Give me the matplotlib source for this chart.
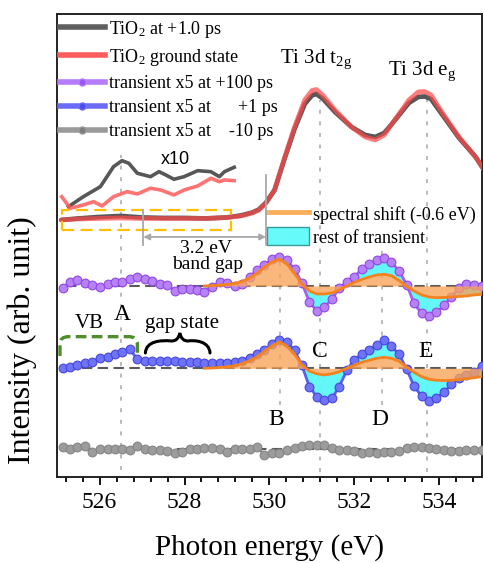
import numpy as np
import matplotlib
matplotlib.use('Agg')
import matplotlib.pyplot as plt
from matplotlib.lines import Line2D
from matplotlib.patches import Patch, Rectangle, PathPatch
from matplotlib.path import Path
from matplotlib.ticker import MultipleLocator

plt.rcParams['font.family'] = ['Liberation Serif', 'DejaVu Serif']
plt.rcParams['mathtext.fontset'] = 'custom'
plt.rcParams['mathtext.rm'] = 'Liberation Serif'
plt.rcParams['mathtext.it'] = 'Liberation Serif:italic'

# ---------------- data ----------------
e_main = [525.1, 525.5, 526.0, 526.5, 527.0, 527.5, 528.0, 528.5, 529.0, 529.33, 529.6, 529.75,
          529.92, 530.12, 530.36, 530.59, 530.83, 531.0, 531.1, 531.25, 531.54, 531.93, 532.25,
          532.49, 532.7, 532.88, 533.28, 533.5, 533.65, 533.8, 534.07, 534.46, 534.85, 535.05]
ground = [257, 258, 258.5, 259, 258.5, 258.5, 258.5, 258.5, 259.5, 261, 264, 267, 274, 287, 320,
          350, 377, 386.5, 387.5, 382, 367, 350, 340, 337, 342, 353, 377, 385, 385.5, 382, 364,
          340, 320, 307]
excited = [257, 258.5, 260, 261, 259.5, 259, 259, 258.5, 259.5, 261.5, 264.5, 267.5, 274.5, 287,
           319, 348, 373, 381.5, 383, 378.5, 365, 350, 342, 340, 344, 353, 374, 380, 380.5, 378,
           362, 339, 320, 307]

e_x10_exc = [525.27, 525.62, 526.02, 526.33, 526.53, 526.69, 526.89, 527.20, 527.40, 527.56,
             527.75, 527.99, 528.31, 528.62, 528.82, 528.94, 529.17]
x10_exc = [270.3, 280.3, 290.3, 310.3, 316.3, 313.7, 303.7, 300.3, 305.3, 302, 297.7, 300.3,
           306.3, 305.3, 300.3, 305.3, 309.7]
e_x10_gnd = [525.11, 525.31, 525.62, 525.86, 526.06, 526.33, 526.65, 526.89, 527.20, 527.44,
             527.75, 527.99, 528.31, 528.62, 528.82, 528.94, 529.17]
x10_gnd = [280.3, 268.7, 272, 275.3, 271, 280.3, 285.3, 283, 288.7, 287, 282, 287, 291, 298.7,
           295.3, 297, 296.3]

# transient energy grid (57 evenly sampled points)
e_t = np.round(525.13 + 0.176 * np.arange(57), 2)
tr_100ps = [-2.3, 4, 6, 3.3, 1, -1.3, 2, 3.7, 4.3, 6.7,
            9.3, 6.7, 5.3, 2, 1, -4.7, -3.3, -3.3, -4, -5.7,
            -1, 4.3, 2.7, 0, 2, 9, 16, 21, 27, 29,
            25.5, 17, 3, -16, -25, -21.5, -13, -2.5, 4, 9,
            16.7, 22, 25.7, 28, 23.7, 15, 1.3, -17.5, -27.3, -29.8,
            -26.5, -19.5, -11, -1.7, 1.7, 0.8, 0]
tr_1ps = [0, 1.7, 3.3, 5, 6.7, 10, 11.7, 14.3, 16.7, 19.5,
          9, 7.7, 7.7, 7.7, 7.7, 7.7, 6.7, 6.7, 6, 5,
          5, 5, 5, 6.7, 7.7, 10.5, 14, 18.5, 24, 28.3,
          26.5, 18, 3, -18.5, -28.3, -31.7, -30, -18.5, -2, 8.5,
          14, 18.5, 23, 28.5, 22, 14, -1, -18, -28, -33,
          -29.5, -24, -16, -10, -7, -3.3, 2]
tr_m10ps = [2, 0, 2, 3.3, -2.3, 0, 0, 0, 0, -0.7,
            3.3, 0, -0.7, -0.7, -1.3, -3.3, -2.3, 0, 0, 1,
            1, 0, -2.3, 0, 0, 0, 2.7, -5.7, -3.3, -3.3,
            -0.7, 1, 3.3, 4.3, 4.3, 4.3, 1, -0.7, -0.7, -1.3,
            -4, -2.3, -4, -2.3, -2.3, -1.3, 1, 2, 2, 1,
            0, -0.7, -1.3, -1.3, -0.7, -0.7, -0.7]
# spectral-shift component (from grid index 19 on)
shift_start = 19
shift_100ps = [0, 0.3, 0.8, 1.5, 2.5, 4.5, 8, 13, 19, 24,
               27, 22, 12.5, 2, -5, -8, -8, -7, -4, 0,
               3.5, 6.5, 9, 11, 11.7, 10.3, 5.5, -0.5, -5, -9,
               -11, -11.7, -11.5, -11, -10.5, -10, -9, -8.3]
shift_1ps = [0, 0.3, 0.8, 1.5, 2.5, 4.5, 7.5, 11.5, 17, 22.5,
             26.5, 22, 14, 3.5, -3, -5.5, -6.7, -5.5, -3.5, 0,
             3, 6, 8, 10, 11, 10, 7, 1, -4, -8.5,
             -11, -12, -12.3, -12, -11.3, -10.5, -9.5, -8.3]
base_100ps, base_1ps, base_m10ps = 191, 108.7, 27.7

peak_pos = [526.5, 530.25, 531.18, 532.65, 533.7]
peak_labels = ['A', 'B', 'C', 'D', 'E']

# ---------------- figure ----------------
fig = plt.figure(figsize=(4.84, 5.63), dpi=100)
ax = fig.add_axes([0.1178, 0.1528, 0.878, 0.8224])
ax.set_xlim(525, 535)
ax.set_ylim(0, 463)

c_purple = '#a65df2'
c_blue = '#5b5ff0'
c_grey = '#8e8e8e'
c_cyan = '#5cf7f7'
c_orfill = '#f9a357'
c_orline = '#f5821f'

# vertical dotted guide lines
vspans = [(7, 322), (72, 222), (5, 377), (72, 227), (5, 377)]
for xp, (y0, y1) in zip(peak_pos, vspans):
    ax.plot([xp, xp], [y0, y1], color='#b4b4b4', lw=1.3, ls=(0, (2.2, 4.2)), zorder=1)

# baselines
for b in (base_100ps, base_1ps, base_m10ps):
    ax.plot([525.2, 535], [b, b], color='#5a5a5a', lw=1.5, ls=(0, (5, 2.6)), zorder=1.5)

# transients with decomposition
e_s = e_t[shift_start:]
for tr, sh, base, col, mfc, mec in ((tr_100ps, shift_100ps, base_100ps, c_purple, '#b683f6', '#9445e6'),
                                    (tr_1ps, shift_1ps, base_1ps, c_blue, '#6f73f6', '#4646de')):
    tr = np.asarray(tr); sh = np.asarray(sh)
    ax.fill_between(e_s, base + sh, base + tr[shift_start:], color=c_cyan, alpha=0.95, lw=0, zorder=2)
    ax.plot(e_t, base + tr, color=col, lw=2, marker='o', ms=6.3, mfc=mfc, mec=mec, mew=0.8, zorder=3)
    ax.fill_between(e_s, base, base + sh, color=c_orfill, alpha=0.78, lw=0, zorder=4)
    ax.plot(e_s, base + sh, color=c_orline, lw=2, zorder=5)

ax.plot(e_t, base_m10ps + np.asarray(tr_m10ps), color=c_grey, lw=2, marker='o', ms=6.3,
        mfc='#9c9c9c', mec='#858585', mew=0.8, zorder=3)

# main spectra
ax.plot(e_main, excited, color='#575757', lw=3.4, zorder=6, solid_capstyle='round')
ax.plot(e_main, ground, color='#ff4a4a', lw=3.4, alpha=0.72, zorder=7, solid_capstyle='round')
ax.plot(e_x10_exc, x10_exc, color='#575757', lw=2.6, zorder=6)
ax.plot(e_x10_gnd, x10_gnd, color='#ff5a5a', lw=2.6, alpha=0.85, zorder=7)

# yellow dashed box
ax.add_patch(Rectangle((525.11, 247), 529.1 - 525.11, 20, fill=False, ec='#ffbf00', lw=1.6,
                       ls=(0, (5.5, 2.8)), zorder=8))

# band gap arrow
ax.plot([527.03, 527.03], [232, 267], color='#a8a8a8', lw=1.3, zorder=8)
ax.plot([529.92, 529.92], [232, 302], color='#a8a8a8', lw=1.3, zorder=8)
ax.annotate('', xy=(529.92, 240), xytext=(527.03, 240),
            arrowprops=dict(arrowstyle='<|-|>', color='#a8a8a8', lw=1.3, mutation_scale=9,
                            shrinkA=0, shrinkB=0), zorder=8)

# VB bracket
vb = Path([(525.07, 121), (525.07, 133), (525.07, 140.3), (525.27, 140.3), (526.69, 140.3),
           (526.89, 140.3), (526.89, 133), (526.89, 120.3)],
          [Path.MOVETO, Path.LINETO, Path.CURVE3, Path.CURVE3, Path.LINETO, Path.CURVE3,
           Path.CURVE3, Path.LINETO])
ax.add_patch(PathPatch(vb, fill=False, ec='#4f8c2b', lw=2.4, ls=(0, (3.2, 1.6)), zorder=8))

# gap-state brace (curly)
x0, x1, xm, yb, ym, yt = 527.08, 528.6, 527.89, 124, 136, 144
hw = (xm - x0)
br = Path([(x0, yb), (x0 + 0.02 * hw, ym), (x0 + 0.45 * hw, ym + 1), (xm - 0.25 * hw, ym),
           (xm - 0.05 * hw, ym - 0.5), (xm, yt),
           (xm + 0.05 * hw, ym - 0.5), (xm + 0.25 * hw, ym),
           (x1 - 0.45 * hw, ym + 1), (x1 - 0.02 * hw, ym), (x1, yb)],
          [Path.MOVETO, Path.CURVE4, Path.CURVE4, Path.CURVE4,
           Path.CURVE3, Path.CURVE3, Path.CURVE3, Path.CURVE3,
           Path.CURVE4, Path.CURVE4, Path.CURVE4])
ax.add_patch(PathPatch(br, fill=False, ec='black', lw=2.2, zorder=8, capstyle='round'))

# text labels
label_xy = [(526.54, 162), (530.16, 57), (531.18, 125.3), (532.60, 57), (533.67, 125.3)]
for (lx, ly), t in zip(label_xy, peak_labels):
    ax.text(lx, ly, t, fontsize=17, ha='center', va='center', zorder=9)
ax.text(525.76, 153.7, 'VB', fontsize=15, ha='center', va='center', zorder=9)
ax.text(527.95, 153.7, 'gap state', fontsize=15, ha='center', va='center', zorder=9)
ax.text(527.79, 317.7, 'x10', fontsize=13, ha='center', va='center', family='Liberation Sans', zorder=9)
ax.text(528.50, 228.7, '3.2 eV', fontsize=14, ha='center', va='center', zorder=9)
ax.text(528.54, 212, 'band gap', fontsize=14, ha='center', va='center', zorder=9)
ax.text(530.24, 414.3, r'Ti 3d t$_{\mathrm{2g}}$', fontsize=15, ha='left', va='baseline', zorder=9)
ax.text(532.80, 402, r'Ti 3d e$_{\mathrm{g}}$', fontsize=15, ha='left', va='baseline', zorder=9)

# legends
h1 = [Line2D([], [], color='#5f5f5f', lw=4),
      Line2D([], [], color='#ff5c5c', lw=4),
      Line2D([], [], color='#b57cfb', lw=4, marker='o', ms=5, mfc='#9a55f0', mec='#b57cfb'),
      Line2D([], [], color='#6a6cf7', lw=4, marker='o', ms=5, mfc='#4a4de8', mec='#6a6cf7'),
      Line2D([], [], color='#9a9a9a', lw=4, marker='o', ms=5, mfc='#7d7d7d', mec='#9a9a9a')]
l1 = ['TiO$_{\\mathrm{2}}$ at +1.0 ps', 'TiO$_{\\mathrm{2}}$ ground state',
      'transient x5 at +100 ps', 'transient x5 at      +1 ps', 'transient x5 at    -10 ps']
leg1 = ax.legend(h1, l1, loc='upper left', bbox_to_anchor=(0.0, 0.996), frameon=False,
                 fontsize=13, handlelength=2.5, handletextpad=0.25, labelspacing=0.4,
                 borderpad=0.1, borderaxespad=0.05, numpoints=1)
ax.add_artist(leg1)
h2 = [Line2D([], [], color='#ffae5c', lw=3.5),
      Patch(facecolor='#66fafa', edgecolor='#3a9a9a', lw=1)]
l2 = ['spectral shift (-0.6 eV)', 'rest of transient']
ax.legend(h2, l2, loc='upper left', bbox_to_anchor=(0.49, 0.592), frameon=False, fontsize=13,
          handlelength=2.3, handleheight=1.15, handletextpad=0.25, labelspacing=0.2,
          borderpad=0.1, borderaxespad=0.0)

# axes styling
for s in ax.spines.values():
    s.set_linewidth(1.4)
    s.set_color('#222222')
ax.set_yticks([])
ax.xaxis.set_major_locator(MultipleLocator(2))
ax.xaxis.set_minor_locator(MultipleLocator(0.4))
ax.tick_params(axis='x', which='major', direction='out', length=6, width=1.3, labelsize=17, pad=5)
ax.tick_params(axis='x', which='minor', direction='out', length=3.5, width=1.3)
ax.set_xlabel('Photon energy (eV)', fontsize=21, labelpad=15)
ax.set_ylabel('Intensity (arb. unit)', fontsize=23)
ax.yaxis.set_label_coords(-0.048, 0.295)

fig.savefig('out.png', dpi=100)
